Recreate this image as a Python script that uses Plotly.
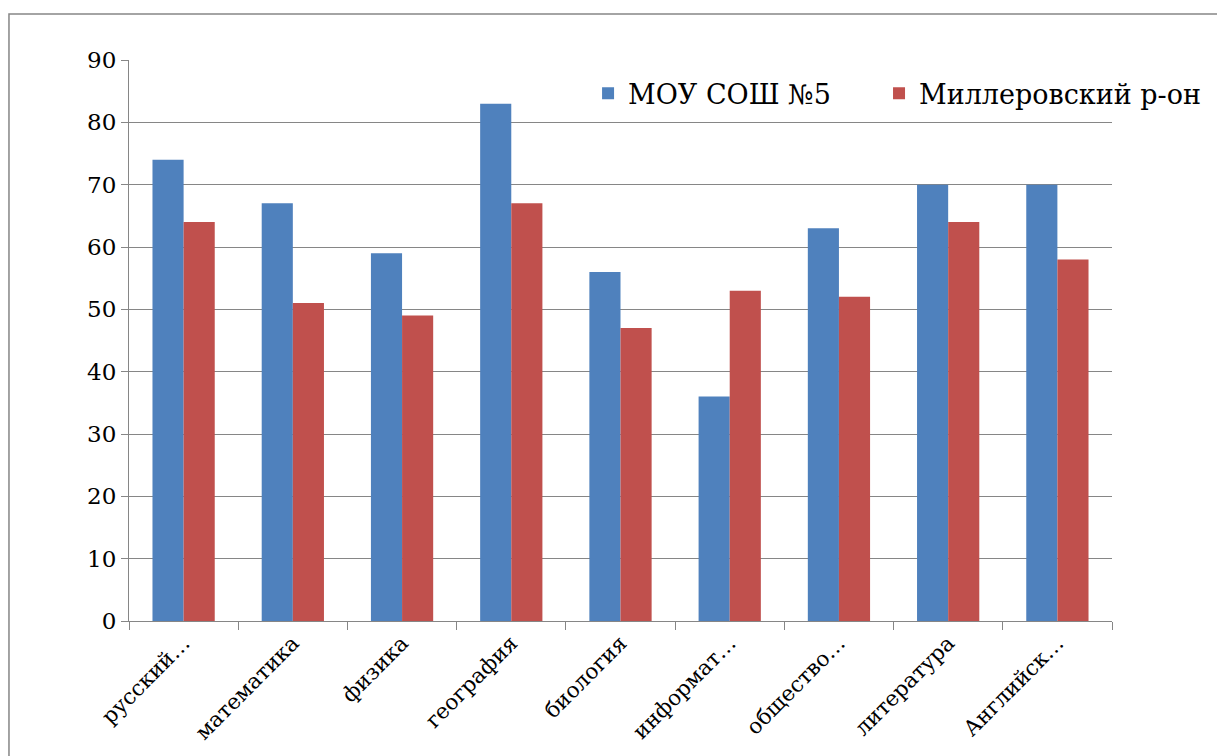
import plotly.graph_objects as go

categories = ["русский…", "математика", "физика", "география", "биология",
              "информат…", "общество…", "литература", "Английск…"]
school = [74, 67, 59, 83, 56, 36, 63, 70, 70]
district = [64, 51, 49, 67, 47, 53, 52, 64, 58]
series_names = ["МОУ СОШ №5", "Миллеровский р-он"]
y_ticks = [0, 10, 20, 30, 40, 50, 60, 70, 80, 90]

FONT = "DejaVu Serif"
GRID = "#868686"

fig = go.Figure()
fig.add_trace(go.Bar(x=categories, y=school, name=series_names[0], legend="legend",
                     marker=dict(color="#4F81BD", line=dict(width=0))))
fig.add_trace(go.Bar(x=categories, y=district, name=series_names[1], legend="legend2",
                     marker=dict(color="#C0504D", line=dict(width=0))))

legend_common = dict(orientation="h", xanchor="left", yanchor="middle", y=0.94,
                     font=dict(family=FONT, size=27, color="black"),
                     bgcolor="rgba(0,0,0,0)")

fig.update_layout(
    width=1225, height=756,
    margin=dict(l=121, r=121, t=52, b=143),
    paper_bgcolor="white", plot_bgcolor="white",
    barmode="group", bargap=0.43, bargroupgap=0,
    font=dict(family=FONT, color="black", size=23),
    legend=dict(x=0.467, **legend_common),
    legend2=dict(x=0.763, **legend_common),
    showlegend=True,
)
fig.update_yaxes(range=[0, 90], tickvals=y_ticks, showgrid=True, gridcolor=GRID, gridwidth=1,
                 showline=True, linecolor=GRID, linewidth=1, ticks="outside", ticklen=7,
                 tickcolor=GRID, tickfont=dict(size=23, family=FONT), zeroline=False,
                 automargin=False)
fig.update_xaxes(showline=True, linecolor=GRID, linewidth=1, ticks="outside", ticklen=8,
                 tickcolor=GRID, tickson="boundaries", tickangle=-45,
                 tickfont=dict(size=21.5, family=FONT), showgrid=False, automargin=False)

fig.add_shape(type="rect", xref="paper", yref="paper",
              x0=-0.1221, x1=1.1119, y0=-0.26, y1=1.082,
              line=dict(color=GRID, width=1.5), fillcolor="rgba(0,0,0,0)", layer="below")

fig.write_html("out.html")
